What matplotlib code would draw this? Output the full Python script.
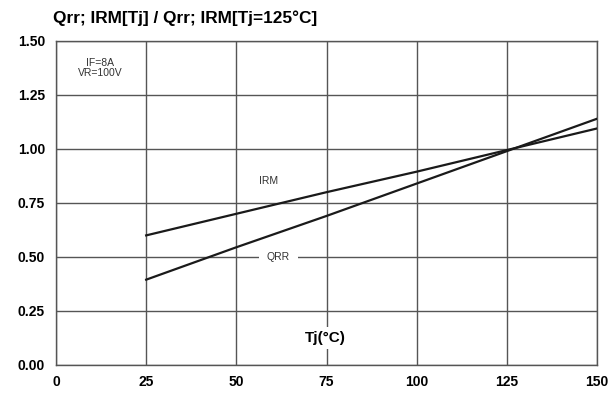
import matplotlib
matplotlib.use("Agg")
import matplotlib.pyplot as plt

plt.rcParams["font.family"] = ["Liberation Sans", "DejaVu Sans"]

# Normalised values vs junction temperature
tj = [25, 50, 75, 100, 125, 150]
irm = [0.600, 0.700, 0.800, 0.895, 0.995, 1.095]
qrr = [0.395, 0.545, 0.690, 0.840, 0.990, 1.140]

x_ticks = [0, 25, 50, 75, 100, 125, 150]
y_ticks = [0.00, 0.25, 0.50, 0.75, 1.00, 1.25, 1.50]

_GRID = "#555555"
_LINE = "#1a1a1a"

fig = plt.figure(figsize=(6.10, 3.96), dpi=100)
ax = fig.add_axes([0.0918, 0.0783, 0.8869, 0.8182])

ax.plot(tj, irm, color=_LINE, linewidth=1.6, zorder=3)
ax.plot(tj, qrr, color=_LINE, linewidth=1.6, zorder=3)

ax.set_xlim(0, 150)
ax.set_ylim(0, 1.5)
ax.set_xticks(x_ticks)
ax.set_yticks(y_ticks)
ax.set_xticklabels([str(v) for v in x_ticks], fontweight="bold", fontsize=10)
ax.set_yticklabels([f"{v:.2f}" for v in y_ticks], fontweight="bold", fontsize=10)
ax.tick_params(length=0, pad=8)
ax.tick_params(axis="x", pad=7)
ax.grid(True, color=_GRID, linewidth=1.0, zorder=1)
for s in ax.spines.values():
    s.set_color(_GRID)
    s.set_linewidth(1.0)

ax.text(59, 0.852, "IRM", fontsize=7.5, color="#333333", ha="center", va="center")
ax.text(61.7, 0.50, "QRR", fontsize=7.5, color="#333333", ha="center", va="center",
        bbox=dict(facecolor="white", edgecolor="none", pad=6), zorder=2)
ax.text(12.2, 1.375, "IF=8A\nVR=100V", fontsize=7.5, color="#333333",
        ha="center", va="center", linespacing=1.0)
ax.text(74.7, 0.125, "Tj(°C)", fontsize=11, fontweight="bold", ha="center", va="center",
        bbox=dict(facecolor="white", edgecolor="none", pad=3), zorder=2)

fig.text(53 / 610, 1 - 18 / 396, "Qrr; IRM[Tj] / Qrr; IRM[Tj=125°C]",
         fontsize=12.4, fontweight="bold", ha="left", va="center")

fig.savefig("out.png", dpi=100, facecolor="white")
